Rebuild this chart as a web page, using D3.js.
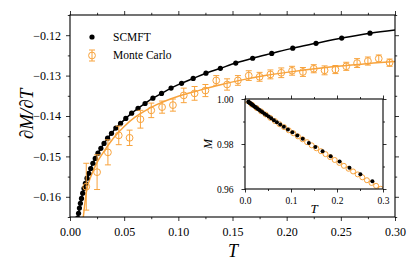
<!DOCTYPE html>
<html>
<head>
<meta charset="utf-8">
<script src="https://cdn.jsdelivr.net/npm/d3@7"></script>
<style>
  body { margin: 0; background: #fff; }
  svg { display: block; }
</style>
</head>
<body>
<div id="container"></div>
<script>
/* DATA */
// SCMFT dots (main: dM/dT, inset: M), same temperatures
const scmftT = [0.0071, 0.0079, 0.0087, 0.0096, 0.0106, 0.0117, 0.0129, 0.0142, 0.0157, 0.0173,
  0.0191, 0.0211, 0.0233, 0.0258, 0.0285, 0.0314, 0.0347, 0.0383, 0.0423, 0.0467,
  0.0515, 0.0569, 0.0628, 0.0693, 0.0765, 0.0845, 0.0933, 0.1030, 0.1137, 0.1255,
  0.1388, 0.1530, 0.1686, 0.1862, 0.2056, 0.2271, 0.2508, 0.2769];
const scmftD = [-0.1653, -0.1641, -0.1628, -0.1616, -0.1604, -0.1591, -0.1579, -0.1567, -0.1554, -0.1542,
  -0.1530, -0.1517, -0.1505, -0.1492, -0.1480, -0.1468, -0.1455, -0.1443, -0.1430, -0.1418,
  -0.1406, -0.1393, -0.1381, -0.1369, -0.1356, -0.1344, -0.1331, -0.1319, -0.1307, -0.1294,
  -0.1282, -0.1269, -0.1257, -0.1245, -0.1232, -0.1220, -0.1207, -0.1195];
const scmftM = [0.9988, 0.9987, 0.9985, 0.9984, 0.9982, 0.9981, 0.9979, 0.9977, 0.9974, 0.9972,
  0.9969, 0.9966, 0.9963, 0.9959, 0.9955, 0.9951, 0.9946, 0.9941, 0.9935, 0.9929,
  0.9922, 0.9914, 0.9906, 0.9897, 0.9887, 0.9877, 0.9865, 0.9852, 0.9838, 0.9823,
  0.9805, 0.9787, 0.9768, 0.9746, 0.9722, 0.9695, 0.9666, 0.9635];
// line end beyond last dot
const scmftEndT = [0.30];
const scmftEndD = [-0.1187];

// Monte Carlo points with error bars
const mcT = [0.015, 0.025, 0.035, 0.045, 0.055, 0.065, 0.075, 0.085, 0.095, 0.105,
  0.115, 0.125, 0.135, 0.145, 0.155, 0.165, 0.175, 0.185, 0.195, 0.205,
  0.215, 0.225, 0.235, 0.245, 0.255, 0.265, 0.275, 0.285, 0.295];
const mcD = [-0.1575, -0.1539, -0.1490, -0.1448, -0.1454, -0.1408, -0.1386, -0.1378, -0.1373, -0.1349,
  -0.1344, -0.1337, -0.1312, -0.1322, -0.1312, -0.1300, -0.1303, -0.1297, -0.1293, -0.1288,
  -0.1291, -0.1283, -0.1287, -0.1285, -0.1277, -0.1269, -0.1264, -0.1258, -0.1268];
const mcErr = [0.0058, 0.0043, 0.0031, 0.0023, 0.0019, 0.0022, 0.0018, 0.0015, 0.0015, 0.0018,
  0.0017, 0.0015, 0.0012, 0.0014, 0.0012, 0.0012, 0.0011, 0.0011, 0.0012, 0.0011,
  0.0011, 0.0010, 0.0011, 0.0010, 0.0010, 0.0011, 0.0010, 0.0009, 0.0009];

// Monte Carlo fit curve
const fitT = [0.0123, 0.015, 0.02, 0.025, 0.03, 0.04, 0.05, 0.06, 0.07, 0.08, 0.10,
  0.12, 0.14, 0.16, 0.18, 0.20, 0.22, 0.24, 0.26, 0.28, 0.30];
const fitD = [-0.1650, -0.1590, -0.1545, -0.1515, -0.1493, -0.1455, -0.1426, -0.1403, -0.1386, -0.1372, -0.1351,
  -0.1336, -0.1322, -0.1310, -0.1300, -0.1292, -0.1285, -0.1279, -0.1274, -0.1269, -0.1265];

// inset Monte Carlo M(T)
const insetMcT = [0.005, 0.015, 0.025, 0.035, 0.045, 0.055, 0.065, 0.075, 0.085, 0.095,
  0.105, 0.115, 0.125, 0.135, 0.145, 0.155, 0.165, 0.175, 0.185, 0.195,
  0.205, 0.215, 0.225, 0.235, 0.245, 0.255, 0.265, 0.275, 0.285, 0.295];
const insetMcM = [0.9992, 0.9975, 0.9960, 0.9945, 0.9931, 0.9916, 0.9902, 0.9888, 0.9875, 0.9861,
  0.9848, 0.9834, 0.9821, 0.9808, 0.9794, 0.9781, 0.9768, 0.9755, 0.9742, 0.9729,
  0.9716, 0.9703, 0.9690, 0.9678, 0.9665, 0.9652, 0.9639, 0.9627, 0.9614, 0.9601];

// ticks
const xMajor = [0, 0.05, 0.10, 0.15, 0.20, 0.25, 0.30];
const xMinor = [0.025, 0.075, 0.125, 0.175, 0.225, 0.275];
const yMajor = [-0.16, -0.15, -0.14, -0.13, -0.12];
const yMinor = [-0.165, -0.155, -0.145, -0.135, -0.125, -0.115];
const ixMajor = [0, 0.1, 0.2, 0.3];
const ixMinor = [0.05, 0.15, 0.25];
const iyMajor = [0.96, 0.98, 1.00];
const iyMinor = [0.97, 0.99];

/* CONSTANTS */
const width = 416, height = 270;
const orange = "#f8a33c";
const serif = '"Liberation Serif", "Times New Roman", serif';
const main = { left: 70, right: 395, top: 15, bottom: 217 };
const ins = { left: 245, right: 383, top: 99, bottom: 189 };

const svg = d3.select("#container").append("svg")
  .attr("width", width).attr("height", height)
  .style("font-family", serif);

/* SCALES */
const x = d3.scaleLinear().domain([0, 0.30]).range([main.left, main.right]);
const y = d3.scaleLinear().domain([-0.165, -0.115]).range([main.bottom, main.top]);
const xi = d3.scaleLinear().domain([0, 0.30]).range([ins.left, ins.right]);
const yi = d3.scaleLinear().domain([0.96, 1.00]).range([ins.bottom, ins.top]);

// axes on all four sides, ticks pointing out
function frame(g, xs, ys, box, opt) {
  const fx = d3.format(opt.fx), fy = d3.format(opt.fy);
  const put = (axis, tr, labels) => {
    const a = g.append("g").attr("transform", tr).call(axis)
      .attr("font-family", null).attr("font-size", null);
    a.select(".domain").remove();
    a.selectAll("line").attr("stroke", "#000").attr("stroke-width", 0.8);
    a.selectAll("text").style("font-family", serif).style("font-size", opt.fs + "px").attr("fill", "#000");
    if (!labels) a.selectAll("text").remove();
  };
  put(d3.axisBottom(xs).tickValues(opt.xMajor).tickSize(opt.big).tickPadding(opt.padX).tickFormat(fx), `translate(0,${box.bottom})`, true);
  put(d3.axisBottom(xs).tickValues(opt.xMinor).tickSize(opt.small), `translate(0,${box.bottom})`, false);
  put(d3.axisTop(xs).tickValues(opt.xMajor).tickSize(opt.big), `translate(0,${box.top})`, false);
  put(d3.axisTop(xs).tickValues(opt.xMinor).tickSize(opt.small), `translate(0,${box.top})`, false);
  put(d3.axisLeft(ys).tickValues(opt.yMajor).tickSize(opt.big).tickPadding(opt.padY).tickFormat(fy), `translate(${box.left},0)`, true);
  put(d3.axisLeft(ys).tickValues(opt.yMinor).tickSize(opt.small), `translate(${box.left},0)`, false);
  put(d3.axisRight(ys).tickValues(opt.yMajor).tickSize(opt.big), `translate(${box.right},0)`, false);
  put(d3.axisRight(ys).tickValues(opt.yMinor).tickSize(opt.small), `translate(${box.right},0)`, false);
  g.append("rect")
    .attr("x", box.left).attr("y", box.top)
    .attr("width", box.right - box.left).attr("height", box.bottom - box.top)
    .attr("fill", "none").attr("stroke", "#000").attr("stroke-width", 1.1);
}

/* MAIN PLOT */
svg.append("clipPath").attr("id", "clipMain").append("rect")
  .attr("x", main.left).attr("y", main.top)
  .attr("width", main.right - main.left).attr("height", main.bottom - main.top);

const plot = svg.append("g").attr("clip-path", "url(#clipMain)");

const line = d3.line().x(d => x(d[0])).y(d => y(d[1])).curve(d3.curveMonotoneX);

const scLine = scmftT.map((t, i) => [t, scmftD[i]]).concat(scmftEndT.map((t, i) => [t, scmftEndD[i]]));
plot.append("path").datum(scLine)
  .attr("d", line).attr("fill", "none").attr("stroke", "#000").attr("stroke-width", 1.5);

plot.append("path").datum(fitT.map((t, i) => [t, fitD[i]]))
  .attr("d", line).attr("fill", "none").attr("stroke", orange).attr("stroke-width", 1.5);

plot.selectAll(".sc").data(scmftT.map((t, i) => [t, scmftD[i]])).join("circle")
  .attr("cx", d => x(d[0])).attr("cy", d => y(d[1])).attr("r", 2.6).attr("fill", "#000");

const mc = mcT.map((t, i) => ({ t, v: mcD[i], e: mcErr[i] }));
const eb = plot.selectAll(".eb").data(mc).join("g").attr("stroke", orange).attr("stroke-width", 1);
eb.append("line").attr("x1", d => x(d.t)).attr("x2", d => x(d.t))
  .attr("y1", d => y(d.v - d.e)).attr("y2", d => y(d.v + d.e));
eb.append("line").attr("x1", d => x(d.t) - 3).attr("x2", d => x(d.t) + 3)
  .attr("y1", d => y(d.v - d.e)).attr("y2", d => y(d.v - d.e));
eb.append("line").attr("x1", d => x(d.t) - 3).attr("x2", d => x(d.t) + 3)
  .attr("y1", d => y(d.v + d.e)).attr("y2", d => y(d.v + d.e));
eb.append("circle").attr("cx", d => x(d.t)).attr("cy", d => y(d.v)).attr("r", 3.4)
  .attr("fill", "none");

frame(svg.append("g"), x, y, main, {
  xMajor, xMinor, yMajor, yMinor, fx: ".2f", fy: ".2f", fs: 12, big: 4, small: 2.2, padX: 6, padY: 5
});

// axis labels
svg.append("text").attr("x", 233).attr("y", 257).attr("text-anchor", "middle")
  .style("font-size", "18px").attr("font-style", "italic").text("T");
svg.append("text").attr("transform", "translate(33,114) rotate(-90)").attr("text-anchor", "middle")
  .style("font-size", "19px").attr("font-style", "italic").text("∂M/∂T");

// legend
const leg = svg.append("g");
leg.append("circle").attr("cx", 92).attr("cy", 37).attr("r", 2.6).attr("fill", "#000");
leg.append("text").attr("x", 113).attr("y", 41).style("font-size", "11.5px").text("SCMFT");
const lg = leg.append("g").attr("stroke", orange).attr("stroke-width", 1);
lg.append("line").attr("x1", 92).attr("x2", 92).attr("y1", 50).attr("y2", 61);
lg.append("line").attr("x1", 89).attr("x2", 95).attr("y1", 50).attr("y2", 50);
lg.append("line").attr("x1", 89).attr("x2", 95).attr("y1", 61).attr("y2", 61);
lg.append("circle").attr("cx", 92).attr("cy", 55.5).attr("r", 3.4).attr("fill", "none");
leg.append("text").attr("x", 113).attr("y", 59).style("font-size", "11.5px").text("Monte Carlo");

/* INSET */
svg.append("rect").attr("x", ins.left).attr("y", ins.top)
  .attr("width", ins.right - ins.left).attr("height", ins.bottom - ins.top).attr("fill", "#fff");
svg.append("clipPath").attr("id", "clipIns").append("rect")
  .attr("x", ins.left).attr("y", ins.top)
  .attr("width", ins.right - ins.left).attr("height", ins.bottom - ins.top);
const ip = svg.append("g").attr("clip-path", "url(#clipIns)");

ip.selectAll(".imc").data(insetMcT.map((t, i) => [t, insetMcM[i]])).join("circle")
  .attr("cx", d => xi(d[0])).attr("cy", d => yi(d[1])).attr("r", 2.5)
  .attr("fill", "none").attr("stroke", orange).attr("stroke-width", 1);
ip.selectAll(".isc").data(scmftT.map((t, i) => [t, scmftM[i]])).join("circle")
  .attr("cx", d => xi(d[0])).attr("cy", d => yi(d[1])).attr("r", 2).attr("fill", "#000");

frame(svg.append("g"), xi, yi, ins, {
  xMajor: ixMajor, xMinor: ixMinor, yMajor: iyMajor, yMinor: iyMinor,
  fx: ".1f", fy: ".2f", fs: 9.5, big: 3.5, small: 2, padX: 5, padY: 8
});

svg.append("text").attr("x", 314).attr("y", 213).attr("text-anchor", "middle")
  .style("font-size", "13px").attr("font-style", "italic").text("T");
svg.append("text").attr("transform", "translate(212,144) rotate(-90)").attr("text-anchor", "middle")
  .style("font-size", "12px").attr("font-style", "italic").text("M");
</script>
</body>
</html>
